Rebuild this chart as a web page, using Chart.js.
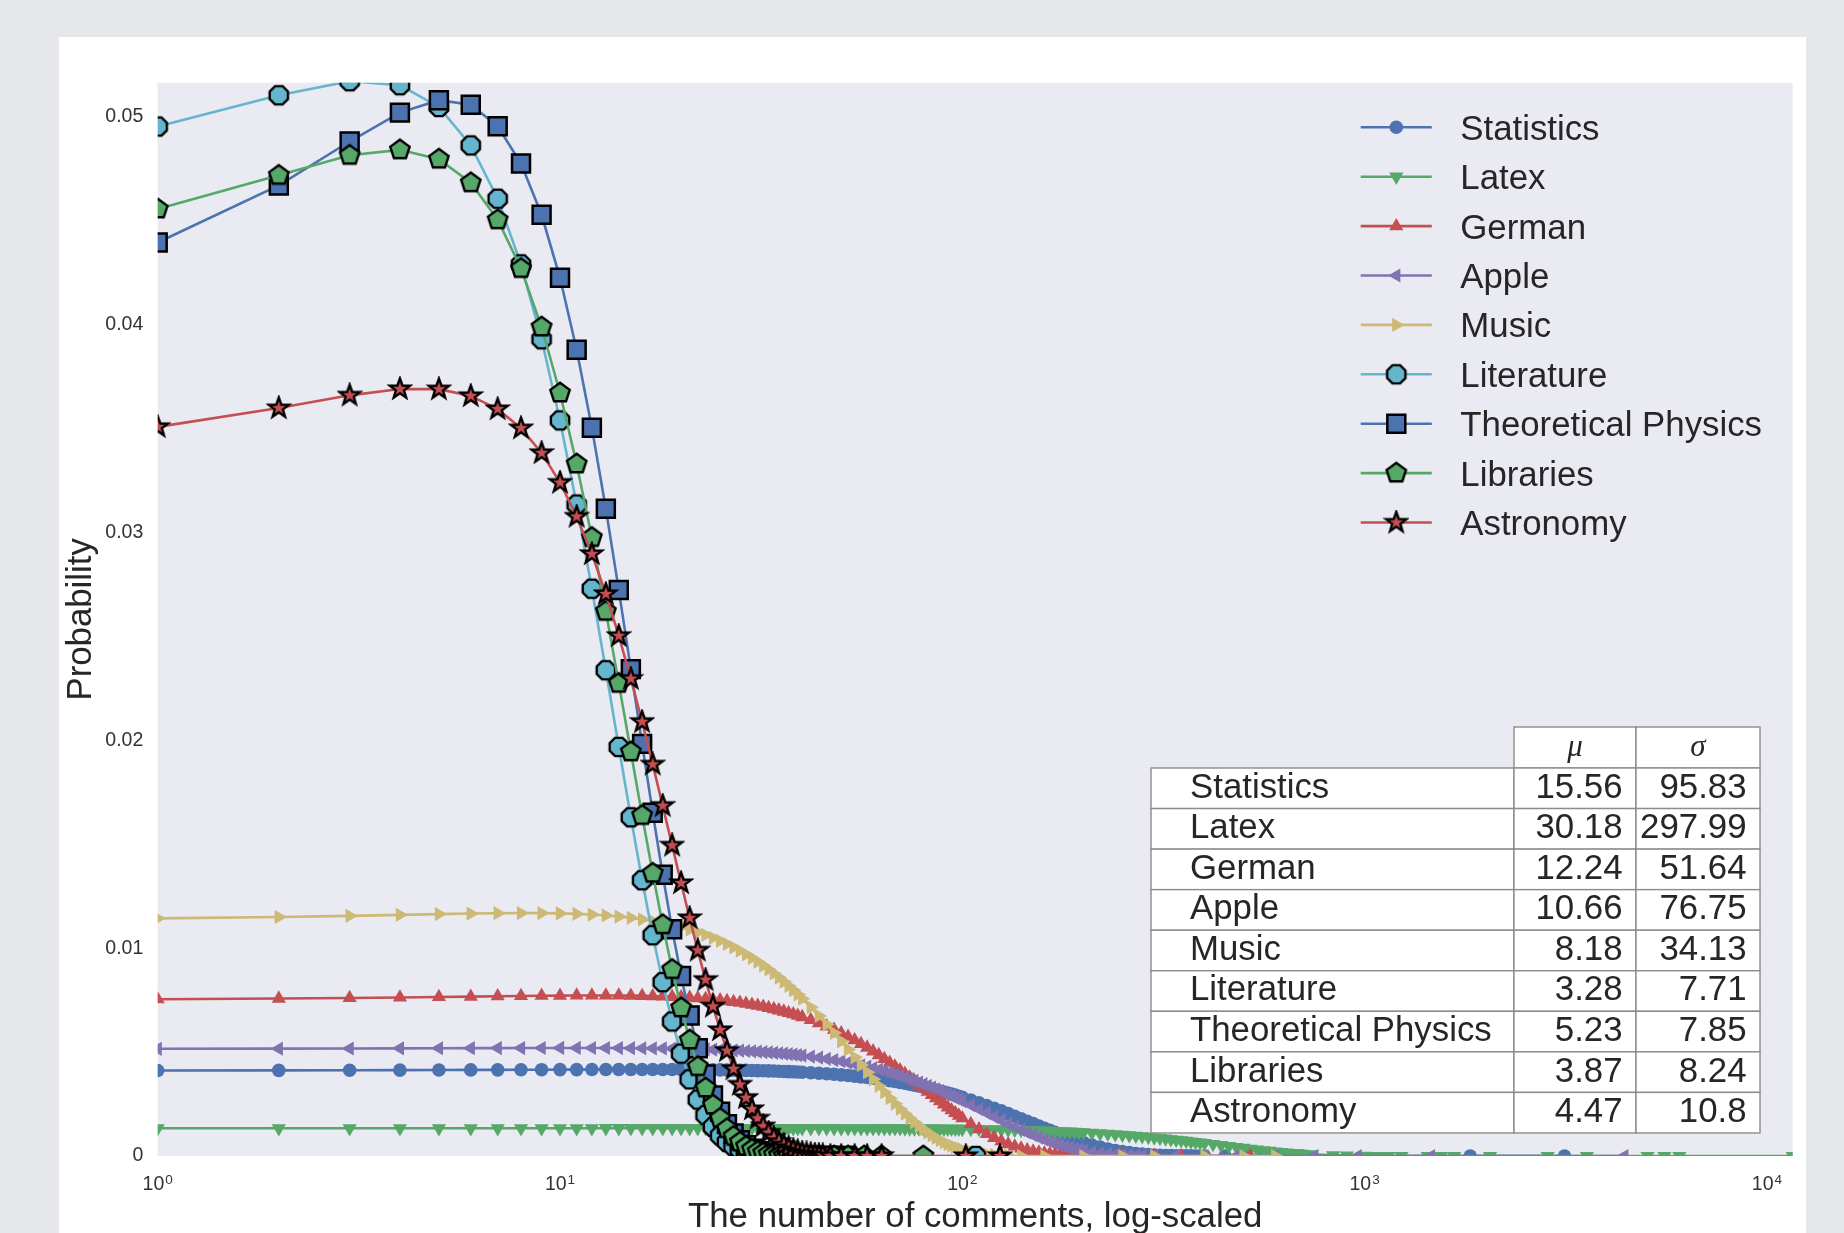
<!DOCTYPE html>
<html>
<head>
<meta charset="utf-8">
<title>Comment count distributions</title>
<script src="https://cdn.jsdelivr.net/npm/chart.js@4.4.1/dist/chart.umd.min.js"></script>
<style>
  html, body { margin: 0; padding: 0; background: #e6e7eb; overflow: hidden; }
  #card { position: absolute; left: 59px; top: 37px; width: 1747px; height: 1196px; background: #ffffff; }
  #plot { position: absolute; left: 0; top: 0; }
</style>
</head>
<body>
<div id="card"></div>
<canvas id="plot" width="1844" height="1233"></canvas>
<script>
// ---- data -------------------------------------------------------------
const seriesNames = ['Statistics', 'Latex', 'German', 'Apple', 'Music',
  'Literature', 'Theoretical Physics', 'Libraries', 'Astronomy'];

// comment counts shared by the series (each series uses a leading part of it)
const commentCounts = [
  1, 2, 3, 4, 5, 6, 7, 8, 9, 10, 11, 12, 13, 14, 15, 16, 17, 18, 19, 20,
  21, 22, 23, 24, 25, 26, 27, 28, 29, 30, 31, 32, 33, 34, 35, 36, 37, 38, 39, 40,
  42, 44, 46, 48, 50, 52, 54, 56, 58, 60, 62, 64, 66, 68, 70, 72, 74, 76, 78, 80,
  82, 84, 86, 88, 90, 92, 94, 96, 98, 100,
  105, 110, 115, 120, 125, 130, 135, 140, 145, 150, 155, 160, 165, 170, 175, 180, 185, 190, 195, 200,
  210, 220, 230, 240, 250, 260, 270, 280, 290, 300, 310, 320, 330, 340, 350, 360, 370, 380, 390, 400,
  420, 440, 460, 480, 500, 520, 540, 560, 580, 600, 620, 640, 660, 680, 700
];

const statisticsProb = [
  0.004115, 0.004122, 0.004127, 0.004133, 0.004138, 0.004142, 0.004146, 0.004150, 0.004153, 0.004156,
  0.004158, 0.004160, 0.004162, 0.004162, 0.004163, 0.004163, 0.004163, 0.004162, 0.004160, 0.004159,
  0.004156, 0.004154, 0.004151, 0.004147, 0.004143, 0.004138, 0.004133, 0.004128, 0.004122, 0.004116,
  0.004109, 0.004102, 0.004095, 0.004087, 0.004078, 0.004069, 0.004060, 0.004050, 0.004040, 0.004030,
  0.004008, 0.003984, 0.003958, 0.003931, 0.003903, 0.003873, 0.003841, 0.003808, 0.003774, 0.003739,
  0.003702, 0.003664, 0.003624, 0.003584, 0.003543, 0.003500, 0.003457, 0.003412, 0.003367, 0.003321,
  0.003274, 0.003226, 0.003177, 0.003128, 0.003079, 0.003029, 0.002978, 0.002927, 0.002875, 0.002824,
  0.002693, 0.002562, 0.002430, 0.002299, 0.002169, 0.002040, 0.001915, 0.001792, 0.001672, 0.001556,
  0.001444, 0.001337, 0.001234, 0.001136, 0.001043, 0.000955, 0.000872, 0.000794, 0.000721, 0.000653,
  0.000531, 0.000428, 0.000340, 0.000268, 0.000209, 0.000161, 0.000123, 0.0000925, 0.0000689, 0.0000509,
  0.0000371, 0.0000268, 0.0000191, 0.0000135, 0.0000094, 0.0000065, 0.0000045, 0.000003, 0.000002, 0.000001
];
const statisticsTailCounts = [450, 500, 560, 620, 700, 1830, 3140];
const statisticsTailProb = [0, 0, 0, 0, 0, 0, 0];

const latexProb = [
  0.0013324, 0.0013328, 0.0013332, 0.0013336, 0.0013340, 0.0013344, 0.0013348, 0.0013351, 0.0013354, 0.0013357,
  0.0013360, 0.0013363, 0.0013366, 0.0013368, 0.0013371, 0.0013373, 0.0013375, 0.0013377, 0.0013379, 0.0013380,
  0.0013382, 0.0013383, 0.0013384, 0.0013385, 0.0013386, 0.0013387, 0.0013387, 0.0013388, 0.0013388, 0.0013388,
  0.0013388, 0.0013388, 0.0013387, 0.0013387, 0.0013386, 0.0013385, 0.0013384, 0.0013383, 0.0013382, 0.0013381,
  0.0013377, 0.0013374, 0.0013369, 0.0013364, 0.0013358, 0.0013352, 0.0013345, 0.0013338, 0.0013330, 0.0013321,
  0.0013312, 0.0013302, 0.0013292, 0.0013281, 0.0013269, 0.0013257, 0.0013244, 0.0013231, 0.0013217, 0.0013202,
  0.0013187, 0.0013171, 0.0013155, 0.0013138, 0.0013121, 0.0013103, 0.0013084, 0.0013065, 0.0013046, 0.0013026,
  0.0012973, 0.0012916, 0.0012856, 0.0012793, 0.0012727, 0.0012658, 0.0012585, 0.0012509, 0.0012430, 0.0012348,
  0.0012264, 0.0012176, 0.0012086, 0.0011993, 0.0011897, 0.0011798, 0.0011698, 0.0011594, 0.0011489, 0.0011381,
  0.0011160, 0.0010929, 0.0010692, 0.0010449, 0.0010199, 0.0009944, 0.0009684, 0.0009421, 0.0009155, 0.0008886,
  0.0008615, 0.0008343, 0.0008070, 0.0007798, 0.0007526, 0.0007256, 0.0006988, 0.0006721, 0.0006458, 0.0006198,
  0.0005690, 0.0005200, 0.0004731, 0.0004285, 0.0003863, 0.0003467, 0.0003098, 0.0002756, 0.0002440, 0.0002151,
  0.0001888, 0.0001649, 0.0001434, 0.0001242, 0.0001070
];
const latexTailCounts = [739, 835, 903, 1000, 1040, 1100, 1145, 1235, 1435, 1550, 1670, 2050, 2850, 3570, 5050, 5560, 6060, 11590];
const latexTailProb = [0.000079, 0.000035, 0.000018, 0.000007, 0, 0, 0, 0, 0, 0, 0, 0, 0, 0, 0, 0, 0, 0];

const germanProb = [
  0.0075446, 0.0075751, 0.0076028, 0.0076278, 0.0076499, 0.0076693, 0.0076858, 0.0076995, 0.0077103, 0.0077182,
  0.0077233, 0.0077254, 0.0077247, 0.0077210, 0.0077145, 0.0077051, 0.0076927, 0.0076776, 0.0076596, 0.0076388,
  0.0076151, 0.0075887, 0.0075596, 0.0075277, 0.0074932, 0.0074561, 0.0074163, 0.0073740, 0.0073291, 0.0072819,
  0.0072322, 0.0071801, 0.0071258, 0.0070692, 0.0070104, 0.0069496, 0.0068866, 0.0068217, 0.0067548, 0.0066862,
  0.0065434, 0.0063943, 0.0062391, 0.0060786, 0.0059133, 0.0057437, 0.0055708, 0.0053950, 0.0052169, 0.0050370,
  0.0048563, 0.0046749, 0.0044934, 0.0043127, 0.0041331, 0.0039547, 0.0037786, 0.0036049, 0.0034340, 0.0032662,
  0.0031020, 0.0029418, 0.0027855, 0.0026336, 0.0024863, 0.0023437, 0.0022059, 0.0020732, 0.0019455, 0.0018228,
  0.0015391, 0.0012874, 0.0010667, 0.0008757, 0.0007121, 0.0005737, 0.0004580, 0.0003621, 0.0002836, 0.0002201,
  0.0001692, 0.0001288, 0.0000972, 0.0000727, 0.0000538, 0.0000395, 0.0000287, 0.0000206, 0.0000147, 0.0000104
];
const germanTailCounts = [220, 250, 300, 350, 520];
const germanTailProb = [0, 0, 0, 0, 0];

const appleProb = [
  0.0051569, 0.0051649, 0.0051721, 0.0051784, 0.0051838, 0.0051883, 0.0051920, 0.0051948, 0.0051967, 0.0051977,
  0.0051978, 0.0051971, 0.0051955, 0.0051930, 0.0051896, 0.0051853, 0.0051802, 0.0051742, 0.0051673, 0.0051596,
  0.0051509, 0.0051415, 0.0051312, 0.0051200, 0.0051080, 0.0050951, 0.0050814, 0.0050669, 0.0050516, 0.0050355,
  0.0050185, 0.0050008, 0.0049823, 0.0049630, 0.0049430, 0.0049222, 0.0049006, 0.0048784, 0.0048554, 0.0048316,
  0.0047821, 0.0047299, 0.0046751, 0.0046177, 0.0045580, 0.0044960, 0.0044318, 0.0043656, 0.0042975, 0.0042275,
  0.0041559, 0.0040827, 0.0040080, 0.0039321, 0.0038550, 0.0037768, 0.0036977, 0.0036178, 0.0035373, 0.0034561,
  0.0033745, 0.0032927, 0.0032106, 0.0031284, 0.0030463, 0.0029644, 0.0028826, 0.0028012, 0.0027203, 0.0026399,
  0.0024420, 0.0022492, 0.0020630, 0.0018842, 0.0017135, 0.0015517, 0.0013993, 0.0012564, 0.0011234, 0.0010002,
  0.0008868, 0.0007828, 0.0006882, 0.0006024, 0.0005251, 0.0004557, 0.0003939, 0.0003390, 0.0002905, 0.0002479,
  0.0001782, 0.0001260, 0.0000876, 0.0000598, 0.0000402, 0.0000265, 0.0000172, 0.0000110
];
const appleTailCounts = [300, 340, 400, 480, 600, 750, 961, 1462, 4421];
const appleTailProb = [0, 0, 0, 0, 0, 0, 0, 0, 0];

const musicProb = [
  0.011433, 0.011499, 0.011555, 0.011602, 0.011638, 0.011665, 0.011682, 0.011689, 0.011686, 0.011672,
  0.011649, 0.011616, 0.011573, 0.011520, 0.011458, 0.011386, 0.011305, 0.011215, 0.011116, 0.011009,
  0.010893, 0.010769, 0.010637, 0.010498, 0.010352, 0.010200, 0.010040, 0.0098753, 0.0097044, 0.0095284,
  0.0093476, 0.0091623, 0.0089730, 0.0087801, 0.0085839, 0.0083849, 0.0081835, 0.0079801, 0.0077751, 0.0075689,
  0.0071542, 0.0067390, 0.0063261, 0.0059182, 0.0055177, 0.0051266, 0.0047468, 0.0043802, 0.0040280, 0.0036915,
  0.0033715, 0.0030686, 0.0027833, 0.0025160, 0.0022665, 0.0020348, 0.0018205, 0.0016231, 0.0014422, 0.0012771,
  0.0011270, 0.00099115, 0.00086867, 0.00075873, 0.00066042, 0.00057288, 0.00049525, 0.00042666, 0.00036632, 0.00031343,
  0.0002091, 0.0001365, 0.0000872, 0.0000545, 0.0000334, 0.0000200
];
const musicTailCounts = [140, 160, 200, 250, 300, 400, 500, 600];
const musicTailProb = [0, 0, 0, 0, 0, 0, 0, 0];

const literatureProb = [
  0.049531, 0.051036, 0.051710, 0.051519, 0.050472, 0.048622, 0.046058, 0.042902, 0.039295, 0.035391,
  0.031343, 0.027295, 0.023374, 0.019682, 0.016296, 0.013269, 0.010623, 0.0083630, 0.0064740, 0.0049280,
  0.0036880, 0.0027147, 0.0019647, 0.0013982, 0.00097848, 0.00067314, 0.00045557, 0.00030320, 0.00019840, 0.00012760,
  0.0000808, 0.0000502, 0.0000307, 0.0000185, 0.0000109, 0, 0, 0, 0, 0
];
const literatureTailCounts = [44, 48, 53, 108];
const literatureTailProb = [0, 0, 0, 0];

const physicsProb = [
  0.043953, 0.046696, 0.048811, 0.050201, 0.050799, 0.050577, 0.049545, 0.047754, 0.045286, 0.042254,
  0.038790, 0.035037, 0.031139, 0.027228, 0.023425, 0.019829, 0.016515, 0.013533, 0.010911, 0.0086559,
  0.0067561, 0.0051883, 0.0039202, 0.0029144, 0.0021318, 0.0015342, 0.0010864, 0.0007569, 0.0005188, 0.0003499,
  0.0002322, 0.0001516, 0.0000974, 0.0000615, 0.0000383, 0, 0, 0, 0, 0
];
const physicsTailCounts = [42, 44, 46, 48, 51];
const physicsTailProb = [0, 0, 0, 0, 0];

const librariesProb = [
  0.045566, 0.047184, 0.048146, 0.048409, 0.047962, 0.046824, 0.045045, 0.042700, 0.039885, 0.036711,
  0.033296, 0.029757, 0.026205, 0.022740, 0.019445, 0.016384, 0.013603, 0.011129, 0.0089714, 0.0071268,
  0.0055786, 0.0043028, 0.0032703, 0.0024492, 0.0018075, 0.0013144, 0.00094182, 0.00066503, 0.00046270, 0.00031721,
  0.00021429, 0.00014263, 0.0000935, 0.0000604, 0.0000385, 0, 0, 0, 0, 0
];
const librariesTailCounts = [42, 44, 48, 52, 57, 63, 80];
const librariesTailProb = [0, 0, 0, 0, 0, 0, 0];

const astronomyProb = [
  0.035081, 0.035985, 0.036598, 0.036904, 0.036895, 0.036570, 0.035939, 0.035018, 0.033828, 0.032401,
  0.030768, 0.028968, 0.027041, 0.025027, 0.022965, 0.020893, 0.018845, 0.016853, 0.014943, 0.013137,
  0.011450, 0.0098943, 0.0084772, 0.0072012, 0.0060649, 0.0050643, 0.0041927, 0.0034414, 0.0028007, 0.0022598,
  0.0018078, 0.0014339, 0.0011275, 0.00087919, 0.00067961, 0.00052084, 0.00039576, 0.00029817, 0.00022270, 0.00016497
];
const astronomyTailCounts = [41, 42, 43, 44, 45, 47, 50, 54, 58, 63, 102, 124];
const astronomyTailProb = [0.000121, 0.000088, 0.000064, 0.000046, 0.000032, 0, 0, 0, 0, 0, 0, 0];

// summary table
const meanValues = [15.56, 30.18, 12.24, 10.66, 8.18, 3.28, 5.23, 3.87, 4.47];
const sdValues = [95.83, 297.99, 51.64, 76.75, 34.13, 7.71, 7.85, 8.24, 10.8];

// axes
const xTickValues = [1, 10, 100, 1000, 10000];
const yTickValues = [0, 0.01, 0.02, 0.03, 0.04, 0.05];
const xMin = 1, xMax = 11590;
const yMin = 0, yMax = 0.05164;

// ---- styling ----------------------------------------------------------
const BLUE = '#4C72B0', GREEN = '#55A868', RED = '#C44E52',
      PURPLE = '#8172B2', GOLD = '#CCB974', CYAN = '#64B5CD';
const INK = '#262626';
const FONT = "'Liberation Sans', Arial, Helvetica, sans-serif";
const PLOT_BG = '#EAEAF2';
const BIG = 34.8;

function markerCanvas(size, path, fill) {
  const c = document.createElement('canvas');
  c.width = size; c.height = size;
  const g = c.getContext('2d');
  g.beginPath();
  path(g, size / 2);
  g.closePath();
  g.fillStyle = fill; g.fill();
  g.lineWidth = 2.4; g.strokeStyle = '#000'; g.lineJoin = 'miter'; g.stroke();
  return c;
}
function ring(g, c, n, radii, start) {
  const total = n * radii.length;
  for (let i = 0; i < total; i++) {
    const a = start + i * 2 * Math.PI / total;
    const r = radii[i % radii.length];
    const px = c + r * Math.cos(a), py = c + r * Math.sin(a);
    if (i === 0) g.moveTo(px, py); else g.lineTo(px, py);
  }
}
const octagonMarker = markerCanvas(26, (g, c) => ring(g, c, 8, [9.9], Math.PI / 8), CYAN);
const pentagonMarker = markerCanvas(26, (g, c) => ring(g, c, 5, [10.2], -Math.PI / 2), GREEN);
const starMarker = markerCanvas(26, (g, c) => ring(g, c, 5, [10.6, 4.3], -Math.PI / 2), RED);

const seriesStyles = [
  { color: BLUE,   point: 'circle',   radius: 6.8, rotation: 0,   fill: BLUE,   edge: 0 },
  { color: GREEN,  point: 'triangle', radius: 8.2, rotation: 180, fill: GREEN,  edge: 0 },
  { color: RED,    point: 'triangle', radius: 8.2, rotation: 0,   fill: RED,    edge: 0 },
  { color: PURPLE, point: 'triangle', radius: 8.2, rotation: -90, fill: PURPLE, edge: 0 },
  { color: GOLD,   point: 'triangle', radius: 8.2, rotation: 90,  fill: GOLD,   edge: 0 },
  { color: CYAN,   point: octagonMarker,  radius: 10, rotation: 0, fill: CYAN,  edge: 0 },
  { color: BLUE,   point: 'rect',     radius: 12.7, rotation: 0,  fill: BLUE,   edge: 2.5 },
  { color: GREEN,  point: pentagonMarker, radius: 10, rotation: 0, fill: GREEN, edge: 0 },
  { color: RED,    point: starMarker,     radius: 10, rotation: 0, fill: RED,   edge: 0 }
];

const seriesData = [
  [statisticsProb, statisticsTailCounts, statisticsTailProb],
  [latexProb, latexTailCounts, latexTailProb],
  [germanProb, germanTailCounts, germanTailProb],
  [appleProb, appleTailCounts, appleTailProb],
  [musicProb, musicTailCounts, musicTailProb],
  [literatureProb, literatureTailCounts, literatureTailProb],
  [physicsProb, physicsTailCounts, physicsTailProb],
  [librariesProb, librariesTailCounts, librariesTailProb],
  [astronomyProb, astronomyTailCounts, astronomyTailProb]
];

function seriesPoints(probs, tailCounts, tailProbs) {
  const pts = probs.map((p, i) => ({ x: commentCounts[i], y: p }));
  tailCounts.forEach((c, i) => pts.push({ x: c, y: tailProbs[i] }));
  return pts;
}

const datasets = seriesNames.map((name, i) => {
  const s = seriesStyles[i];
  return {
    label: name,
    data: seriesPoints(...seriesData[i]),
    borderColor: s.color,
    backgroundColor: s.color,
    borderWidth: 2.6,
    tension: 0,
    fill: false,
    pointStyle: s.point,
    pointRadius: s.radius,
    pointRotation: s.rotation,
    pointBackgroundColor: s.fill,
    pointBorderColor: s.edge > 0 ? '#000' : s.fill,
    pointBorderWidth: s.edge,
    clip: 0,
    order: -i
  };
});

// ---- chart furniture ----------------------------------------------------
const plotBackground = {
  id: 'plotBackground',
  beforeDraw(chart) {
    const { ctx, chartArea: a } = chart;
    ctx.save();
    ctx.fillStyle = PLOT_BG;
    ctx.fillRect(a.left, a.top, a.right - a.left, a.bottom - a.top);
    ctx.restore();
  }
};

const decadeLabels = {
  id: 'decadeLabels',
  afterDraw(chart) {
    const { ctx, chartArea: a } = chart;
    const sx = chart.scales.x;
    const baseFont = '19.5px ' + FONT, expFont = '13.5px ' + FONT;
    ctx.save();
    ctx.fillStyle = '#333';
    ctx.textAlign = 'left';
    ctx.textBaseline = 'alphabetic';
    sx.ticks.forEach(t => {
      const exp = String(Math.round(Math.log10(t.value)));
      ctx.font = baseFont; const wb = ctx.measureText('10').width;
      ctx.font = expFont; const we = ctx.measureText(exp).width;
      const x0 = sx.getPixelForValue(t.value) - (wb + we + 1) / 2;
      ctx.font = baseFont; ctx.fillText('10', x0, a.bottom + 34);
      ctx.font = expFont; ctx.fillText(exp, x0 + wb + 1, a.bottom + 28);
    });
    ctx.restore();
  }
};

const drawMarker = (ctx, style, x, y) => {
  ctx.fillStyle = style.fill;
  ctx.strokeStyle = style.edge > 0 ? '#000' : style.fill;
  ctx.lineWidth = style.edge;
  Chart.helpers.drawPoint(ctx, {
    pointStyle: style.point, radius: style.radius, rotation: style.rotation, borderWidth: style.edge
  }, x, y);
};

const seriesKey = {
  id: 'seriesKey',
  afterDraw(chart) {
    const { ctx } = chart;
    ctx.save();
    seriesNames.forEach((name, i) => {
      const s = seriesStyles[i];
      const y = 127.3 + i * 49.4;
      ctx.strokeStyle = s.color;
      ctx.lineWidth = 2.6;
      ctx.beginPath();
      ctx.moveTo(1360.7, y);
      ctx.lineTo(1431.8, y);
      ctx.stroke();
      drawMarker(ctx, s, 1396.3, y);
      ctx.fillStyle = INK;
      ctx.font = BIG + 'px ' + FONT;
      ctx.textAlign = 'left';
      ctx.textBaseline = 'alphabetic';
      ctx.fillText(name, 1460.3, y + 12.5);
    });
    ctx.restore();
  }
};

const summaryTable = {
  id: 'summaryTable',
  afterDraw(chart) {
    const { ctx } = chart;
    const left = 1151, c1 = 1514, c2 = 1636, right = 1760;
    const headTop = 727, rowTop = 768, rowH = 40.55;
    ctx.save();
    ctx.lineWidth = 1.4;
    ctx.strokeStyle = '#8c8c8c';
    const cell = (x0, y0, x1, y1) => {
      ctx.fillStyle = '#ffffff';
      ctx.fillRect(x0, y0, x1 - x0, y1 - y0);
      ctx.strokeRect(x0, y0, x1 - x0, y1 - y0);
    };
    cell(c1, headTop, c2, rowTop);
    cell(c2, headTop, right, rowTop);
    seriesNames.forEach((name, i) => {
      const y0 = rowTop + i * rowH, y1 = y0 + rowH;
      cell(left, y0, c1, y1);
      cell(c1, y0, c2, y1);
      cell(c2, y0, right, y1);
    });
    ctx.fillStyle = INK;
    ctx.textBaseline = 'alphabetic';
    ctx.font = "italic 31px 'Liberation Serif', 'DejaVu Serif', serif";
    ctx.textAlign = 'center';
    ctx.fillText('\u03BC', (c1 + c2) / 2, headTop + 29);
    ctx.fillText('\u03C3', (c2 + right) / 2, headTop + 29);
    ctx.font = BIG + 'px ' + FONT;
    seriesNames.forEach((name, i) => {
      const base = rowTop + i * rowH + 29.7;
      ctx.textAlign = 'left';
      ctx.fillText(name, left + 39, base);
      ctx.textAlign = 'right';
      ctx.fillText(String(meanValues[i]), c2 - 13.5, base);
      ctx.fillText(String(sdValues[i]), right - 13.5, base);
    });
    ctx.restore();
  }
};

Chart.defaults.font.family = FONT;

new Chart(document.getElementById('plot'), {
  type: 'line',
  data: { datasets },
  options: {
    responsive: false,
    animation: false,
    events: [],
    layout: { padding: { left: 0, top: 82.7, right: 51.3, bottom: 0 } },
    plugins: { legend: { display: false }, tooltip: { enabled: false } },
    scales: {
      x: {
        type: 'logarithmic',
        min: xMin,
        max: xMax,
        grid: { display: false, drawTicks: false },
        border: { display: false },
        ticks: { display: false },
        afterBuildTicks: s => { s.ticks = xTickValues.map(v => ({ value: v })); },
        afterFit: s => { s.height = 77; },
        title: {
          display: true,
          text: 'The number of comments, log-scaled',
          color: INK,
          font: { size: BIG, lineHeight: 0.89 },
          padding: { top: 0, bottom: 0 }
        }
      },
      y: {
        type: 'linear',
        min: yMin,
        max: yMax,
        grid: { display: false, drawTicks: false },
        border: { display: false },
        afterBuildTicks: s => { s.ticks = yTickValues.map(v => ({ value: v })); },
        afterFit: s => { s.width = 157.7; },
        ticks: {
          color: '#333',
          font: { size: 19.5 },
          padding: 14.4,
          callback: v => (v === 0 ? '0' : v.toFixed(2))
        },
        title: {
          display: true,
          text: 'Probability',
          color: INK,
          font: { size: BIG, lineHeight: 0.89 },
          padding: { top: 65.7, bottom: 0 }
        }
      }
    }
  },
  plugins: [plotBackground, decadeLabels, summaryTable, seriesKey]
});
</script>
</body>
</html>
